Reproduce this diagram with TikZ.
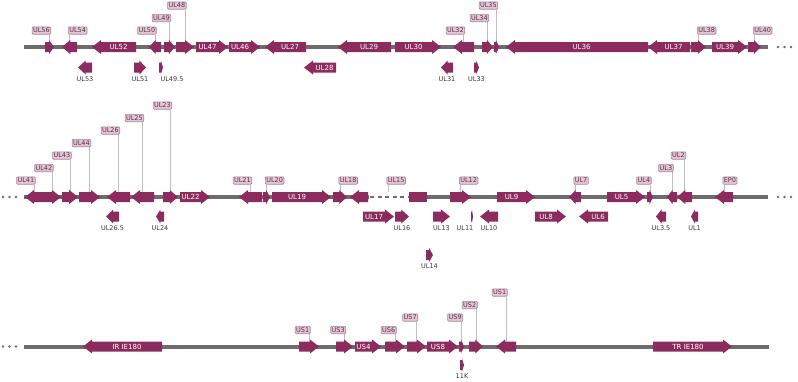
\documentclass[tikz,border=0pt]{standalone}
\usepackage{fontspec}
\setmainfont{DejaVu Sans}
\usetikzlibrary{positioning}

\definecolor{genec}{RGB}{140,44,94}
\definecolor{labfill}{RGB}{228,198,214}
\definecolor{labdraw}{RGB}{168,128,148}
\definecolor{labtext}{RGB}{84,52,68}
\definecolor{subtext}{RGB}{55,55,55}
\definecolor{leadc}{RGB}{190,190,190}
\definecolor{bbc}{RGB}{108,108,108}

\pgfdeclarelayer{bg}
\pgfsetlayers{bg,main}

\tikzset{
  gene/.style={fill=genec},
  gtext/.style={text=white, font=\fontsize{7}{8}\selectfont, inner sep=0pt},
  glab/.style={draw=labdraw, fill=labfill, text=labtext, line width=0.6pt,
    font=\fontsize{6.5}{7}\selectfont, inner xsep=1pt, inner ysep=1.3pt,
    text height=4.8pt, text depth=0pt, rounded corners=1pt},
  gsub/.style={text=subtext, font=\fontsize{6.5}{7}\selectfont, inner sep=0.5pt},
  lead/.style={draw=leadc, line width=0.7pt},
  bb/.style={draw=bbc, line width=4pt},
  bbdash/.style={draw=bbc, line width=1.5pt, dash pattern=on 4pt off 3.5pt},
  bbdot/.style={fill=bbc},
}

% gene arrows: name, x1, x2, y
\newcommand{\geneR}[4]{%
  \pgfmathsetmacro{\ghd}{min(9,0.55*(#3-#2))}%
  \fill[gene] (#2,#4-5) -- (#3-\ghd,#4-5) -- (#3-\ghd,#4-7) -- (#3,#4)
    -- (#3-\ghd,#4+7) -- (#3-\ghd,#4+5) -- (#2,#4+5) -- cycle;
  \coordinate (#1) at ({(#2+#3)/2},#4-5);
  \coordinate (#1-c) at ({(#2+#3)/2},#4);
  \coordinate (#1-b) at ({(#2+#3-\ghd)/2},#4);
}
\newcommand{\geneL}[4]{%
  \pgfmathsetmacro{\ghd}{min(9,0.55*(#3-#2))}%
  \fill[gene] (#3,#4-5) -- (#2+\ghd,#4-5) -- (#2+\ghd,#4-7) -- (#2,#4)
    -- (#2+\ghd,#4+7) -- (#2+\ghd,#4+5) -- (#3,#4+5) -- cycle;
  \coordinate (#1) at ({(#2+#3)/2},#4-5);
  \coordinate (#1-c) at ({(#2+#3)/2},#4);
  \coordinate (#1-b) at ({(#2+\ghd+#3)/2},#4);
}
% text in a gene
\newcommand{\gin}[2]{\node[gtext] (#1-t) at (#1-b) {#2};}
% label box left / right of its leader: gene, bottom y, text
\newcommand{\labL}[3]{%
  \coordinate (#1-y) at (0,#2);
  \node[glab, anchor=south east, xshift=1.5pt] (#1-l) at (#1 |- #1-y) {#3};
  \begin{pgfonlayer}{bg}\draw[lead] (#1-c) -- (#1 |- #1-l.south);\end{pgfonlayer}
}
\newcommand{\labR}[3]{%
  \coordinate (#1-y) at (0,#2);
  \node[glab, anchor=south west, xshift=-1.5pt] (#1-l) at (#1 |- #1-y) {#3};
  \begin{pgfonlayer}{bg}\draw[lead] (#1-c) -- (#1 |- #1-l.south);\end{pgfonlayer}
}
% name under a gene
\newcommand{\gbelow}[3][0]{\node[gsub, below=8.5pt, xshift=#1pt] (#2-s) at (#2-c) {#3};}

\begin{document}
\begin{tikzpicture}[x=1pt, y=-1pt]
  \useasboundingbox (0,0) rectangle (798,381);

  % backbones
  \draw[bb] (24,47) -- (768,47);
  \foreach \dx in {778,784.5,791} \fill[bbdot] (\dx,47) circle (1.3pt);
  \draw[bb] (24,197) -- (369,197);
  \draw[bbdash] (370,197) -- (408,197);
  \draw[bb] (427,197) -- (768,197);
  \foreach \dx in {3,9.5,16,778,784.5,791} \fill[bbdot] (\dx,197) circle (1.3pt);
  \draw[bb] (24,346.5) -- (769,346.5);
  \foreach \dx in {3,9.5,16} \fill[bbdot] (\dx,346.5) circle (1.3pt);

  % row 1
  \geneR{ul56}{45}{54}{47} \labL{ul56}{34.5}{UL56}
  \geneL{ul54}{62}{77}{47} \labR{ul54}{34.5}{UL54}
  \geneL{ul52}{92}{136}{47} \gin{ul52}{UL52}
  \geneL{ul50}{149}{161}{47} \labL{ul50}{34.5}{UL50}
  \geneR{ul49}{164}{175}{47} \labL{ul49}{22}{UL49}
  \geneR{ul48}{176}{194}{47} \labL{ul48}{9.5}{UL48}
  \geneR{ul47}{196}{228}{47} \gin{ul47}{UL47}
  \geneR{ul46}{229}{260}{47} \gin{ul46}{UL46}
  \geneL{ul27}{265}{306}{47} \gin{ul27}{UL27}
  \geneL{ul29}{338}{391}{47} \gin{ul29}{UL29}
  \geneR{ul30}{395}{441}{47} \gin{ul30}{UL30}
  \geneL{ul32}{453}{474}{47} \labL{ul32}{34.5}{UL32}
  \geneR{ul34}{482}{493}{47} \labL{ul34}{22}{UL34}
  \geneR{ul35}{494}{499}{47} \labL{ul35}{9.5}{UL35}
  \geneL{ul36}{506}{648}{47} \gin{ul36}{UL36}
  \geneL{ul37}{648}{690}{47} \gin{ul37}{UL37}
  \geneR{ul38}{691}{706}{47} \labR{ul38}{34.5}{UL38}
  \geneR{ul39}{712}{747}{47} \gin{ul39}{UL39}
  \geneR{ul40}{748}{761}{47} \labR{ul40}{34.5}{UL40}

  \geneL{ul53}{78}{92}{67.5} \gbelow{ul53}{UL53}
  \geneR{ul51}{134}{146}{67.5} \gbelow{ul51}{UL51}
  \geneR{ul495}{159}{163}{67.5} \gbelow[11]{ul495}{UL49.5}
  \geneL{ul28}{304}{336}{67.5} \gin{ul28}{UL28}
  \geneL{ul31}{441}{453}{67.5} \gbelow{ul31}{UL31}
  \geneR{ul33}{474}{479}{67.5} \gbelow{ul33}{UL33}

  % row 2
  \geneL{ul41}{25}{43}{197} \labL{ul41}{184.5}{UL41}
  \geneR{ul42}{43}{61}{197} \labL{ul42}{172}{UL42}
  \geneR{ul43}{62}{78}{197} \labL{ul43}{159.5}{UL43}
  \geneR{ul44}{79}{100}{197} \labL{ul44}{147}{UL44}
  \geneL{ul26}{107}{130}{197} \labL{ul26}{134.5}{UL26}
  \geneL{ul25}{131}{154}{197} \labL{ul25}{122}{UL25}
  \geneR{ul23}{163}{178}{197} \labL{ul23}{109.5}{UL23}
  \geneR{ul22}{180}{210}{197} \gin{ul22}{UL22}
  \geneL{ul21}{239}{262}{197} \labL{ul21}{184.5}{UL21}
  \geneR{ul20}{263}{270}{197} \labR{ul20}{184.5}{UL20}
  \geneR{ul19}{272}{331}{197} \gin{ul19}{UL19}
  \geneR{ul18}{333}{347}{197} \labR{ul18}{184.5}{UL18}
  \geneL{ulx}{350}{368}{197}
  \fill[gene] (409,192) rectangle (427,202);
  \coordinate (ul15-c) at (388,192);
  \coordinate (ul15) at (388,192);
  \labR{ul15}{184.5}{UL15}
  \geneR{ul12}{450}{471}{197} \labR{ul12}{184.5}{UL12}
  \geneR{ul9}{497}{535}{197} \gin{ul9}{UL9}
  \geneL{ul7}{569}{581}{197} \labR{ul7}{184.5}{UL7}
  \geneR{ul5}{607}{645}{197} \gin{ul5}{UL5}
  \geneR{ul4}{647}{653}{197} \labL{ul4}{184.5}{UL4}
  \geneL{ul3}{667}{677}{197} \labL{ul3}{172}{UL3}
  \geneL{ul2}{677}{692}{197} \labL{ul2}{159.5}{UL2}
  \geneL{ep0}{715}{733}{197} \labR{ep0}{184.5}{EP0}

  \geneL{ul265}{106}{119}{216.5} \gbelow{ul265}{UL26.5}
  \geneL{ul24}{156}{164}{216.5} \gbelow{ul24}{UL24}
  \geneR{ul17}{363}{394}{216.5} \gin{ul17}{UL17}
  \geneR{ul16}{395}{409}{216.5} \gbelow{ul16}{UL16}
  \geneR{ul13}{433}{450}{216.5} \gbelow{ul13}{UL13}
  \geneR{ul11}{471}{473}{216.5} \gbelow[-7]{ul11}{UL11}
  \geneL{ul10}{480}{498}{216.5} \gbelow{ul10}{UL10}
  \geneR{ul8}{535}{566}{216.5} \gin{ul8}{UL8}
  \geneL{ul6}{579}{608}{216.5} \gin{ul6}{UL6}
  \geneL{ul35b}{656}{666}{216.5} \gbelow{ul35b}{UL3.5}
  \geneL{ul1}{691}{698}{216.5} \gbelow{ul1}{UL1}
  \geneR{ul14}{426}{433}{255} \gbelow{ul14}{UL14}

  % row 3
  \geneL{irie}{83}{162}{346.5} \gin{irie}{IR IE180}
  \geneR{us1}{299}{319}{346.5} \labL{us1}{334}{US1}
  \geneR{us3}{336}{353}{346.5} \labL{us3}{334}{US3}
  \geneR{us4}{355}{381}{346.5} \gin{us4}{US4}
  \geneR{us6}{385}{405}{346.5} \labL{us6}{334}{US6}
  \geneR{us7}{407}{426}{346.5} \labL{us7}{321.5}{US7}
  \geneR{us8}{427}{458}{346.5} \gin{us8}{US8}
  \geneR{us9}{459}{464}{346.5} \labL{us9}{321.5}{US9}
  \geneR{us2}{469}{483}{346.5} \labL{us2}{309}{US2}
  \geneL{us1b}{496}{516}{346.5} \labL{us1b}{296.5}{US1}
  \geneR{trie}{653}{732}{346.5} \gin{trie}{TR IE180}

  \geneR{k11}{460}{464}{365} \gbelow{k11}{11K}
\end{tikzpicture}
\end{document}
